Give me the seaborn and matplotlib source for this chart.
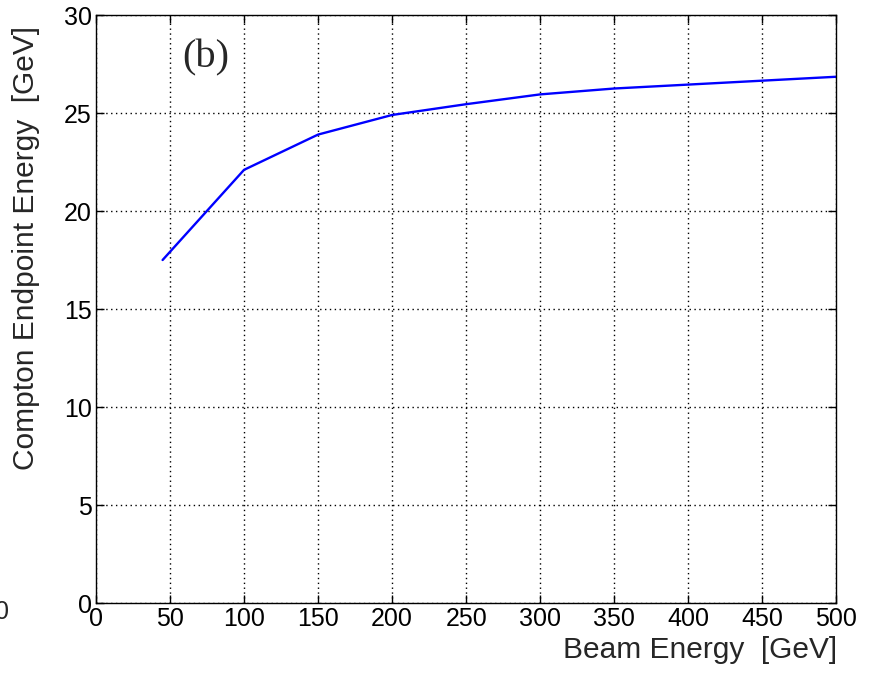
import numpy as np
import pandas as pd
import seaborn as sns
import matplotlib.pyplot as plt

# Werte
beam_energy = [45, 100, 150, 200, 250, 300, 350, 400, 450, 500]
endpoint_energy = [17.5, 22.1, 23.9, 24.9, 25.45, 25.95, 26.25, 26.45, 26.65, 26.85]
x_ticks = [0, 50, 100, 150, 200, 250, 300, 350, 400, 450, 500]
y_ticks = [0, 5, 10, 15, 20, 25, 30]

sns.set_style('ticks')
plt.rcParams['font.family'] = ['Liberation Sans', 'DejaVu Sans']

df = pd.DataFrame({'beam': beam_energy, 'endpoint': endpoint_energy})

fig = plt.figure(figsize=(8.7, 6.73), dpi=100)
ax = fig.add_axes([0.1103, 0.104, 0.851, 0.8737])

sns.lineplot(data=df, x='beam', y='endpoint', color='#0000ff', linewidth=1.7, ax=ax)

ax.set_xlim(0, 500)
ax.set_ylim(0, 30)
ax.set_xticks(x_ticks)
ax.set_yticks(y_ticks)
ax.tick_params(direction='in', length=6, width=1, top=True, right=True,
               labelsize=18, colors='black', pad=3)
for s in ax.spines.values():
    s.set_visible(True)
    s.set_color('black')
    s.set_linewidth(1.0)

ax.grid(True, color='black', linestyle=(0, (1, 2.5)), linewidth=1.0)
ax.set_axisbelow(True)

ax.set_xlabel('Beam Energy  [GeV]', fontsize=21.5)
ax.xaxis.set_label_coords(0.816, -0.056)
ax.set_ylabel('Compton Endpoint Energy  [GeV]', fontsize=21.5)
ax.yaxis.set_label_coords(-0.076, 0.604)

ax.text(74, 27.8, '(b)', fontsize=29, ha='center', va='center',
        family=['Liberation Serif', 'DejaVu Serif'])

# abgeschnittene Null vom Nachbarbild
fig.text(0.002, 0.09, '0', fontsize=18, ha='center', va='center')

fig.savefig('out.png', dpi=100)
